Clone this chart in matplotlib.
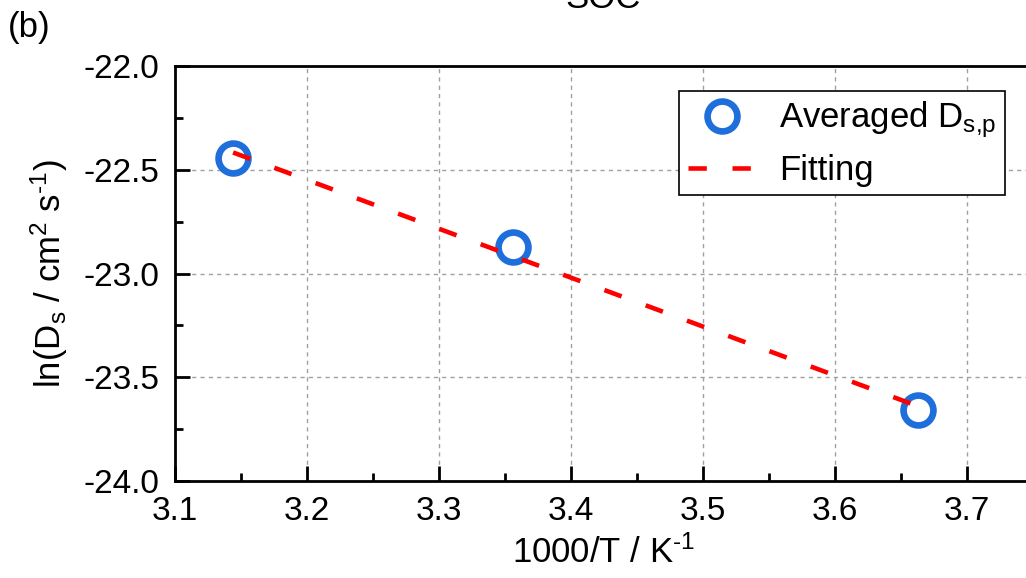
import numpy as np
import matplotlib
matplotlib.use("Agg")
import matplotlib.pyplot as plt
from matplotlib.ticker import MultipleLocator

plt.rcParams['font.family'] = ['Liberation Sans', 'DejaVu Sans']
plt.rcParams['mathtext.fontset'] = 'custom'
plt.rcParams['mathtext.rm'] = 'Liberation Sans'
plt.rcParams['mathtext.it'] = 'Liberation Sans'
plt.rcParams['mathtext.default'] = 'regular'

# Inverse temperature (1000/T) and averaged diffusion coefficients
inv_temp = [3.144, 3.356, 3.663]
ln_ds = [-22.443, -22.872, -23.658]

x_ticks = [3.1, 3.2, 3.3, 3.4, 3.5, 3.6, 3.7]
y_ticks = [-24.0, -23.5, -23.0, -22.5, -22.0]

# Linear Arrhenius fit
slope, intercept = np.polyfit(inv_temp, ln_ds, 1)
fit_x = np.array([inv_temp[0], inv_temp[-1]])
fit_y = slope * fit_x + intercept

fig = plt.figure(figsize=(10.26, 5.78), dpi=100)
ax = fig.add_axes([175 / 1026, 1 - 481 / 578, 858 / 1026, 415 / 578])

ax.plot(inv_temp, ln_ds, 'o', ms=21.5, mfc='none', mec='#1e6fdc', mew=4.8,
        label=r'Averaged D$_{\text{s,p}}$', zorder=3)
ax.plot(fit_x, fit_y, color='#ff0000', lw=3.3, ls=(0, (4.0, 5.6)),
        label='Fitting', zorder=4)

ax.set_xlim(3.1, 3.75)
ax.set_ylim(-24.0, -22.0)
ax.set_xticks(x_ticks)
ax.set_yticks(y_ticks)
ax.xaxis.set_minor_locator(MultipleLocator(0.05))
ax.yaxis.set_minor_locator(MultipleLocator(0.25))
ax.set_xticklabels([f'{v:.1f}' for v in x_ticks])
ax.set_yticklabels([f'{v:.1f}' for v in y_ticks])

ax.tick_params(which='both', direction='in', width=2, labelsize=24,
               top=False, right=False)
ax.tick_params(axis='x', which='major', length=11, pad=11)
ax.tick_params(axis='y', which='major', length=11, pad=11)
ax.tick_params(which='minor', length=6)
for s in ax.spines.values():
    s.set_linewidth(2)

ax.grid(True, which='major', color='#a0a0a0', ls=(0, (3, 3)), lw=1)

ax.set_xlabel(r'1000/T / K$^{\text{-1}}$', fontsize=25, labelpad=6)
ax.set_ylabel(r'ln(D$_{\text{s}}$ / cm$^{\text{2}}$ s$^{\text{-1}}$)',
              fontsize=25, labelpad=10)

leg = ax.legend(loc='upper right', bbox_to_anchor=(1005 / 1026, 1 - 91 / 578),
                bbox_transform=fig.transFigure, fontsize=25, frameon=True,
                fancybox=False, edgecolor='black', framealpha=1,
                handlelength=1.95, borderpad=0.25, labelspacing=0.38,
                handletextpad=0.68, borderaxespad=0)
leg.get_frame().set_linewidth(1.2)

fig.text(603 / 1026, 1 - 8 / 578, 'SOC', ha='center', va='baseline', fontsize=25)
fig.text(8 / 1026, 1 - 37 / 578, '(b)', ha='left', va='baseline', fontsize=25)

fig.savefig('out.png', dpi=100)
